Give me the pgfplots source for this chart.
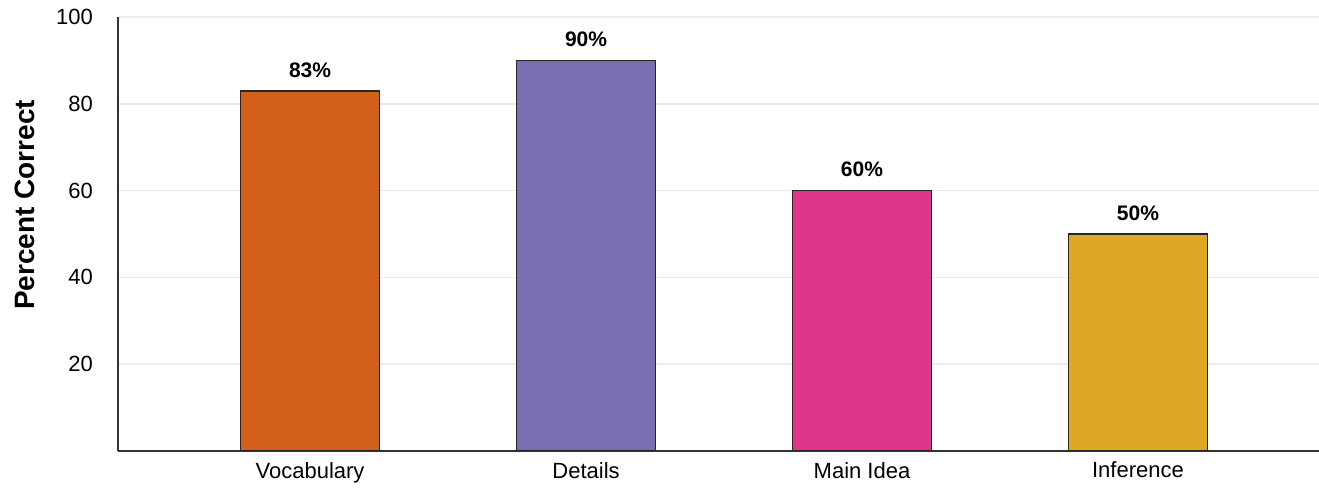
\documentclass[border=0pt]{standalone}
\usepackage{pgfplots}
\pgfplotsset{compat=1.18}
\usepackage{fontspec}
\setmainfont{Liberation Sans}

\definecolor{vocab}{RGB}{210,96,26}
\definecolor{details}{RGB}{122,110,176}
\definecolor{mainidea}{RGB}{222,54,138}
\definecolor{infer}{RGB}{222,168,36}
\definecolor{gridc}{RGB}{236,236,236}

\pgfplotsset{
  pct bar/.style={ybar, bar width=69.5pt, bar shift=0pt, draw=black!85, line width=0.8pt,
    fill=#1, nodes near coords={\pgfmathprintnumber{\pgfplotspointmeta}\%},
    every node near coord/.append style={font=\fontsize{10.5}{12}\selectfont\bfseries, yshift=3pt}}
}

\begin{document}
\begin{tikzpicture}
\begin{axis}[
  scale only axis,
  width=600.5pt, height=217pt,
  xmin=-0.696, xmax=3.656,
  ymin=0, ymax=100,
  axis lines=left,
  axis line style={-, line width=0.8pt, black!80},
  xtick={0,1,2,3},
  xticklabels={Vocabulary, Details, Main Idea, Inference},
  ytick={20,40,60,80,100},
  major tick length=0pt,
  ymajorgrids,
  grid style={gridc, line width=0.8pt},
  tick label style={font=\fontsize{11}{13}\selectfont},
  yticklabel style={xshift=-9pt},
  xticklabel style={yshift=-2pt},
  /pgf/number format/assume math mode=true,
  ylabel={Percent Correct},
  ylabel style={font=\fontsize{14}{16}\selectfont\bfseries, at={(axis description cs:-0.0774,0.567)}, anchor=center},
]
\addplot[pct bar=vocab] coordinates {(0,83)};
\addplot[pct bar=details] coordinates {(1,90)};
\addplot[pct bar=mainidea] coordinates {(2,60)};
\addplot[pct bar=infer] coordinates {(3,50)};
\end{axis}
\pgfresetboundingbox
\path (-59pt,-20.5pt) rectangle (600.5pt,225.5pt);
\end{tikzpicture}
\end{document}
